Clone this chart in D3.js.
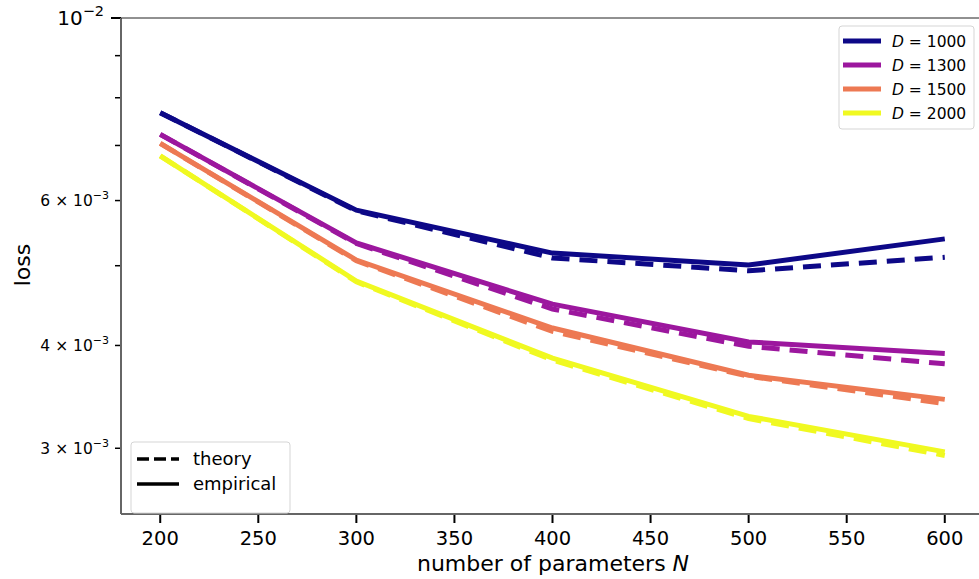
<!DOCTYPE html>
<meta charset="utf-8">
<script src="https://d3js.org/d3.v7.min.js"></script>
<style>
  body { margin: 0; background: #fff; }
  text { font-family: "DejaVu Sans", sans-serif; }
</style>
<div id="my_dataviz"></div>
<script>

// data
var params = [200, 300, 400, 500, 600];
var dims = [1000, 1300, 1500, 2000];
var colors = ["#0d0887", "#9c179e", "#ed7953", "#f0f921"];

var empirical1000 = [7.67e-3, 5.84e-3, 5.18e-3, 5.01e-3, 5.39e-3];
var empirical1300 = [7.22e-3, 5.33e-3, 4.49e-3, 4.04e-3, 3.91e-3];
var empirical1500 = [7.04e-3, 5.08e-3, 4.20e-3, 3.68e-3, 3.44e-3];
var empirical2000 = [6.80e-3, 4.79e-3, 3.86e-3, 3.28e-3, 2.97e-3];

var theory1000 = [7.67e-3, 5.83e-3, 5.11e-3, 4.93e-3, 5.12e-3];
var theory1300 = [7.22e-3, 5.32e-3, 4.43e-3, 3.99e-3, 3.80e-3];
var theory1500 = [7.04e-3, 5.07e-3, 4.16e-3, 3.67e-3, 3.40e-3];
var theory2000 = [6.80e-3, 4.78e-3, 3.84e-3, 3.26e-3, 2.94e-3];

var empirical = [empirical1000, empirical1300, empirical1500, empirical2000];
var theory = [theory1000, theory1300, theory1500, theory2000];

var xTicks = [200, 250, 300, 350, 400, 450, 500, 550, 600];
var yMajor = [1e-2];
var yMinorLabeled = [[6e-3, "6"], [4e-3, "4"], [3e-3, "3"]];
var yMinorPlain = [9e-3, 8e-3, 7e-3, 5e-3];

var W = 979, H = 579;
var m = {left: 121, right: 984, top: 18, bottom: 514};

var svg = d3.select("#my_dataviz")
  .append("svg")
    .attr("width", W)
    .attr("height", H);

var x = d3.scaleLinear().domain([180, 620]).range([m.left, m.right]);
var y = d3.scaleLog().domain([2.496e-3, 1e-2]).range([m.bottom, m.top]);

// x axis ticks
svg.selectAll(".xtick")
  .data(xTicks)
  .enter().append("line")
    .attr("x1", function(d) { return x(d); })
    .attr("x2", function(d) { return x(d); })
    .attr("y1", m.bottom)
    .attr("y2", m.bottom + 9)
    .attr("stroke", "#000")
    .attr("stroke-width", 2);

svg.selectAll(".xlab")
  .data(xTicks)
  .enter().append("text")
    .attr("x", function(d) { return x(d); })
    .attr("y", 545)
    .attr("text-anchor", "middle")
    .attr("font-size", 19.5)
    .text(function(d) { return d; });

// y axis ticks (log scale, matplotlib style)
svg.selectAll(".ymajor")
  .data(yMajor)
  .enter().append("line")
    .attr("x1", m.left - 10).attr("x2", m.left)
    .attr("y1", function(d) { return y(d); })
    .attr("y2", function(d) { return y(d); })
    .attr("stroke", "#000").attr("stroke-width", 2);

svg.selectAll(".yminor")
  .data(yMinorPlain.concat(yMinorLabeled.map(function(d) { return d[0]; })))
  .enter().append("line")
    .attr("x1", m.left - 6).attr("x2", m.left)
    .attr("y1", function(d) { return y(d); })
    .attr("y2", function(d) { return y(d); })
    .attr("stroke", "#000").attr("stroke-width", 1.5);

var majLab = svg.selectAll(".ymajlab")
  .data(yMajor)
  .enter().append("text")
    .attr("x", 104)
    .attr("y", function(d) { return y(d) + 7; })
    .attr("text-anchor", "end")
    .attr("font-size", 20);
majLab.append("tspan").text("10");
majLab.append("tspan").attr("dy", -9).attr("font-size", 14.5).text("\u22122");

var minLab = svg.selectAll(".yminlab")
  .data(yMinorLabeled)
  .enter().append("text")
    .attr("x", 109)
    .attr("y", function(d) { return y(d[0]) + 5.5; })
    .attr("text-anchor", "end")
    .attr("font-size", 15.5);
minLab.append("tspan").text(function(d) { return d[1] + " \u00d7 10"; });
minLab.append("tspan").attr("dy", -7).attr("font-size", 11).text("\u22123");

// spines
svg.append("line")
  .attr("x1", m.left).attr("x2", m.left).attr("y1", m.top).attr("y2", m.bottom)
  .attr("stroke", "#666").attr("stroke-width", 2);
svg.append("line")
  .attr("x1", m.left).attr("x2", W).attr("y1", m.bottom).attr("y2", m.bottom)
  .attr("stroke", "#666").attr("stroke-width", 2);
svg.append("line")
  .attr("x1", m.left).attr("x2", W).attr("y1", m.top).attr("y2", m.top)
  .attr("stroke", "#222").attr("stroke-width", 1);

// axis labels
var xl = svg.append("text")
  .attr("x", 553).attr("y", 571)
  .attr("text-anchor", "middle")
  .attr("font-size", 22);
xl.append("tspan").text("number of parameters ");
xl.append("tspan").attr("font-style", "italic").text("N");

svg.append("text")
  .attr("transform", "translate(30,265) rotate(-90)")
  .attr("text-anchor", "middle")
  .attr("font-size", 22)
  .text("loss");

// lines
var line = d3.line()
  .x(function(d, i) { return x(params[i]); })
  .y(function(d) { return y(d); });

dims.forEach(function(D, k) {
  svg.append("path")
    .datum(theory[k])
    .attr("d", line)
    .attr("fill", "none")
    .attr("stroke", colors[k])
    .attr("stroke-width", 5)
    .attr("stroke-dasharray", "18,10");
  svg.append("path")
    .datum(empirical[k])
    .attr("d", line)
    .attr("fill", "none")
    .attr("stroke", colors[k])
    .attr("stroke-width", 5);
});

// legend: dimensions
var lg = svg.append("g");
lg.append("rect")
  .attr("x", 839).attr("y", 26).attr("width", 135).attr("height", 103)
  .attr("rx", 3).attr("fill", "#fff").attr("fill-opacity", 0.8)
  .attr("stroke", "#d5d5d5");
dims.forEach(function(D, k) {
  var yy = 41 + k * 24;
  lg.append("line")
    .attr("x1", 843).attr("x2", 881).attr("y1", yy).attr("y2", yy)
    .attr("stroke", colors[k]).attr("stroke-width", 5);
  var t = lg.append("text")
    .attr("x", 892).attr("y", yy + 5.5)
    .attr("font-size", 15.5);
  t.append("tspan").attr("font-style", "italic").text("D");
  t.append("tspan").text(" = " + D);
});

// legend: line styles
var lg2 = svg.append("g");
lg2.append("rect")
  .attr("x", 131).attr("y", 442).attr("width", 159).attr("height", 71)
  .attr("rx", 3).attr("fill", "#fff").attr("fill-opacity", 0.8)
  .attr("stroke", "#d5d5d5");
lg2.append("line")
  .attr("x1", 137).attr("x2", 179).attr("y1", 459).attr("y2", 459)
  .attr("stroke", "#000").attr("stroke-width", 3.5)
  .attr("stroke-dasharray", "12,5");
lg2.append("line")
  .attr("x1", 137).attr("x2", 179).attr("y1", 484).attr("y2", 484)
  .attr("stroke", "#000").attr("stroke-width", 3.5);
lg2.append("text").attr("x", 193).attr("y", 465).attr("font-size", 18).text("theory");
lg2.append("text").attr("x", 193).attr("y", 490).attr("font-size", 18).text("empirical");

</script>
